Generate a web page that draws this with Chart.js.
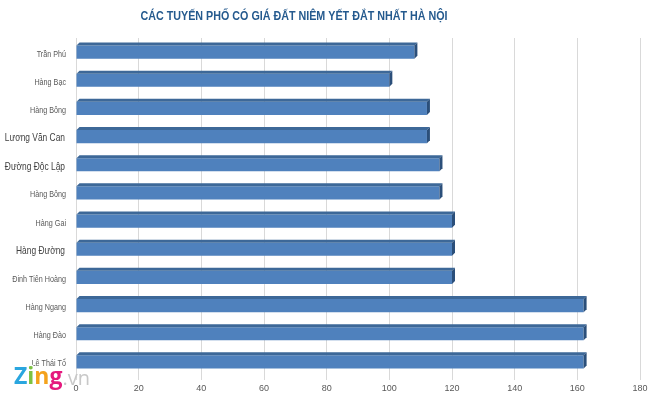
<!DOCTYPE html>
<html>
<head>
<meta charset="utf-8">
<script src="https://cdn.jsdelivr.net/npm/chart.js@4/dist/chart.umd.min.js"></script>
<style>
  html, body { margin: 0; padding: 0; background: #fff; }
  #wrap { width: 660px; height: 399px; }
</style>
</head>
<body>
<div id="wrap"><canvas id="myChart"></canvas></div>
<script>
var streets = [
	'Trần Phú',
	'Hàng Bạc',
	'Hàng Bông',
	'Lương Văn Can',
	'Đường Độc Lập',
	'Hàng Bông',
	'Hàng Gai',
	'Hàng Đường',
	'Đinh Tiên Hoàng',
	'Hàng Ngang',
	'Hàng Đào',
	'Lê Thái Tổ',
];
var prices = [108, 100, 112, 112, 116, 116, 120, 120, 120, 162, 162, 162];
var xTicks = [0, 20, 40, 60, 80, 100, 120, 140, 160, 180];
var bigLabels = ['Lương Văn Can', 'Đường Độc Lập', 'Hàng Đường'];
var titleText = 'CÁC TUYẾN PHỐ CÓ GIÁ ĐẤT NIÊM YẾT ĐẮT NHẤT HÀ NỘI';

// draws narrow text (the source used a condensed font we don't have)
function narrowText(ctx, text, x, y, squeeze) {
	ctx.save();
	ctx.translate(x, y);
	ctx.scale(squeeze, 1);
	ctx.fillText(text, 0, 0);
	ctx.restore();
}

// fake 3d faces on the bars, category labels, title, watermark
var extras = {
	id: 'extras',
	afterDatasetsDraw: function (chart) {
		var ctx = chart.ctx;
		var d = 3;
		chart.getDatasetMeta(0).data.forEach(function (bar) {
			var top = bar.y - bar.height / 2;
			var bottom = bar.y + bar.height / 2;
			ctx.save();
			ctx.fillStyle = '#3d6898';
			ctx.beginPath();
			ctx.moveTo(bar.base, top);
			ctx.lineTo(bar.base + d, top - d);
			ctx.lineTo(bar.x + d, top - d);
			ctx.lineTo(bar.x, top);
			ctx.closePath();
			ctx.fill();
			ctx.fillStyle = '#2b4f7a';
			ctx.beginPath();
			ctx.moveTo(bar.x, top);
			ctx.lineTo(bar.x + d, top - d);
			ctx.lineTo(bar.x + d, bottom - d);
			ctx.lineTo(bar.x, bottom);
			ctx.closePath();
			ctx.fill();
			ctx.restore();
		});
	},
	afterDraw: function (chart) {
		var ctx = chart.ctx;
		var yScale = chart.scales.y;
		ctx.save();
		ctx.textAlign = 'right';
		ctx.textBaseline = 'middle';
		streets.forEach(function (name, i) {
			var y = yScale.getPixelForValue(i) + 2;
			if (bigLabels.indexOf(name) >= 0) {
				ctx.font = '10.5px "Liberation Sans", sans-serif';
				ctx.fillStyle = '#404040';
				narrowText(ctx, name, 65, y, 0.8);
			} else {
				ctx.font = '9px "Liberation Sans", sans-serif';
				ctx.fillStyle = '#595959';
				narrowText(ctx, name, 66, y, 0.8);
			}
		});

		ctx.textAlign = 'center';
		ctx.textBaseline = 'alphabetic';
		ctx.fillStyle = '#255a8e';
		ctx.font = 'bold 12px "Liberation Sans", sans-serif';
		ctx.fillText(titleText, 294, 20, 307);

		ctx.textAlign = 'left';
		ctx.textBaseline = 'middle';
		ctx.font = 'bold 23px "Open Sans", sans-serif';
		var letters = [['Z', '#2aa6df'], ['i', '#7cc242'], ['n', '#f4a21c'], ['g', '#e5197e']];
		var x = 14;
		letters.forEach(function (l) {
			ctx.lineWidth = 3;
			ctx.strokeStyle = '#ffffff';
			ctx.strokeText(l[0], x, 377);
			ctx.fillStyle = l[1];
			ctx.fillText(l[0], x, 377);
			x += ctx.measureText(l[0]).width;
		});
		ctx.font = '20px "Open Sans", sans-serif';
		ctx.fillStyle = '#c8c8c8';
		ctx.fillText('.vn', x, 379);
		ctx.restore();
	},
};

new Chart('myChart', {
	type: 'bar',
	data: {
		labels: streets,
		datasets: [
			{
				data: prices,
				backgroundColor: '#4f81bd',
				borderWidth: 0,
				barPercentage: 0.47,
				categoryPercentage: 1,
			},
		],
	},
	options: {
		indexAxis: 'y',
		responsive: true,
		maintainAspectRatio: false,
		animation: false,
		layout: { padding: { top: 38, right: 20, left: 0, bottom: 0 } },
		plugins: {
			legend: { display: false },
			title: { display: false },
			tooltip: { enabled: false },
		},
		scales: {
			x: {
				min: 0,
				max: 180,
				afterBuildTicks: function (scale) {
					scale.ticks = xTicks.map(function (v) { return { value: v }; });
				},
				afterFit: function (scale) { scale.height = 23; },
				grid: { color: '#d9d9d9', tickLength: 4 },
				border: { display: false },
				ticks: {
					color: '#595959',
					font: { family: '"Liberation Sans", sans-serif', size: 9 },
					padding: 3,
				},
			},
			y: {
				afterFit: function (scale) { scale.width = 76; },
				grid: { display: false },
				border: { display: false },
				ticks: { display: false },
			},
		},
	},
	plugins: [extras],
});
</script>
</body>
</html>
